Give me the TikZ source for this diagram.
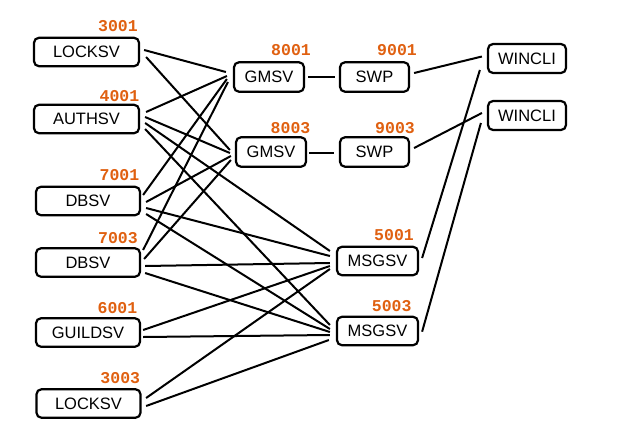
\documentclass[tikz,border=0pt]{standalone}
\usepackage{fontspec}
\setmainfont{Liberation Sans}
\newfontfamily\numfont{Liberation Mono}
\usetikzlibrary{calc}
\definecolor{numorange}{RGB}{224,96,16}
\begin{document}
\begin{tikzpicture}[x=1pt,y=-1pt,
  box/.style={draw=black, line width=2.2pt, rounded corners=5pt, fill=white,
    minimum height=28.5pt, inner sep=0pt, font=\fontsize{16.5}{18}\selectfont},
  num/.style={text=numorange, font=\numfont\bfseries\fontsize{16.5}{18}\selectfont, inner sep=0pt},
  link/.style={line width=2pt, draw=black}]
\useasboundingbox[fill=white] (0,0) rectangle (618,447);

% left column
\node[box, minimum width=105pt] (lock1) at (86.5,52) {LOCKSV};
\node[box, minimum width=105pt] (auth) at (86.5,119) {AUTHSV};
\node[box, minimum width=104pt] (db1) at (88,201) {DBSV};
\node[box, minimum width=104pt] (db2) at (88,262.5) {DBSV};
\node[box, minimum width=104pt] (guild) at (88,332.5) {GUILDSV};
\node[box, minimum width=104pt] (lock2) at (88.5,403.5) {LOCKSV};
% middle
\node[box, minimum width=70pt, minimum height=29.5pt] (gm1) at (269,77) {GMSV};
\node[box, minimum width=70pt, minimum height=29.5pt] (gm2) at (271,152) {GMSV};
\node[box, minimum width=69pt, minimum height=29.5pt] (swp1) at (374.5,77) {SWP};
\node[box, minimum width=69pt, minimum height=29.5pt] (swp2) at (374.5,152) {SWP};
\node[box, minimum width=81pt] (msg1) at (377.5,261) {MSGSV};
\node[box, minimum width=81pt] (msg2) at (377.5,331) {MSGSV};
% right
\node[box, minimum width=78pt, minimum height=29pt] (win1) at (527,58.5) {WINCLI};
\node[box, minimum width=78pt, minimum height=29pt] (win2) at (527,115.5) {WINCLI};

% labels
\node[num] (n3001) at (118,26.5) {3001};
\node[num] (n4001) at (119.5,96) {4001};
\node[num] (n7001) at (119.5,175.5) {7001};
\node[num] (n7003) at (118,238) {7003};
\node[num] (n6001) at (117.5,308.5) {6001};
\node[num] (n3003) at (120.3,378) {3003};
\node[num] (n8001) at (291,50.5) {8001};
\node[num] (n8003) at (290.5,128.5) {8003};
\node[num] (n9001) at (397,50.5) {9001};
\node[num] (n9003) at (395,128.5) {9003};
\node[num] (n5001) at (394,235.5) {5001};
\node[num] (n5003) at (391.7,306) {5003};

% left connectors
\draw[link] ($(lock1.east)+(4,-2)$) -- ($(gm1.west)+(-7,-5)$);
\draw[link] ($(lock1.east)+(6,5)$) -- ($(gm2.west)+(-5,-2)$);
\draw[link] ($(auth.east)+(6,-7)$) -- ($(gm1.west)+(-6,-1)$);
\draw[link] ($(auth.east)+(5,-2)$) -- ($(gm2.west)+(-5,1)$);
\draw[link] ($(auth.east)+(5,4)$) -- ($(msg1.west)+(-6,-10)$);
\draw[link] ($(auth.east)+(5,10)$) -- ($(msg2.west)+(-6,-6)$);
\draw[link] ($(db1.east)+(2,-6)$) -- ($(gm1.west)+(-6,2)$);
\draw[link] ($(db1.east)+(5,1)$) -- ($(gm2.west)+(-4,4)$);
\draw[link] ($(db1.east)+(5,7)$) -- ($(msg1.west)+(-6,-5)$);
\draw[link] ($(db1.east)+(5,13)$) -- ($(msg2.west)+(-6,-2)$);
\draw[link] ($(db2.east)+(2,-12.5)$) -- ($(gm1.west)+(-5,5)$);
\draw[link] ($(db2.east)+(3,-3.5)$) -- ($(gm2.west)+(-4,8)$);
\draw[link] ($(db2.east)+(4,3.5)$) -- ($(msg1.west)+(-6,2)$);
\draw[link] ($(db2.east)+(4,10.5)$) -- ($(msg2.west)+(-6,1)$);
\draw[link] ($(guild.east)+(2,-2.5)$) -- ($(msg1.west)+(-6,5)$);
\draw[link] ($(guild.east)+(2,4.5)$) -- ($(msg2.west)+(-6,4)$);
\draw[link] ($(lock2.east)+(4.5,-5.5)$) -- ($(msg1.west)+(-6,8)$);
\draw[link] ($(lock2.east)+(4.5,2.5)$) -- ($(msg2.west)+(-7,9)$);

% middle and right connectors
\draw[link] ($(gm1.east)+(3,0)$) -- ($(swp1.west)+(-4,0)$);
\draw[link] ($(gm2.east)+(2,1)$) -- ($(swp2.west)+(-5,1)$);
\draw[link] ($(swp1.east)+(4,-4)$) -- ($(win1.west)+(-5,-2)$);
\draw[link] ($(swp2.east)+(4,-4)$) -- ($(win2.west)+(-5,-2.5)$);
\draw[link] ($(msg1.east)+(3,-3)$) -- ($(win1.west)+(-7,11.5)$);
\draw[link] ($(msg2.east)+(3,0.7)$) -- ($(win2.west)+(-6,7.5)$);
\end{tikzpicture}
\end{document}
